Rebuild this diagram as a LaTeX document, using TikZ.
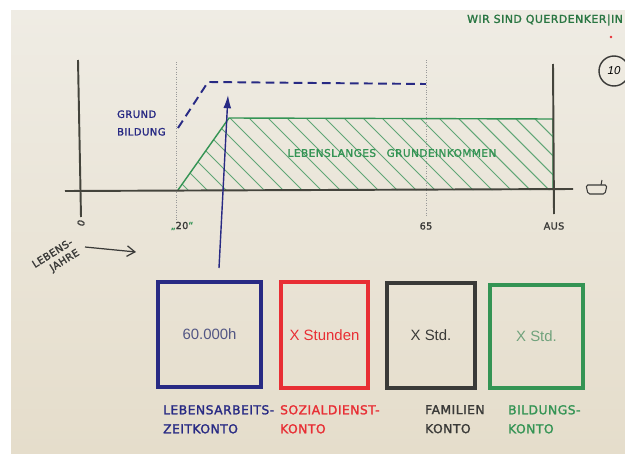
\documentclass[tikz,border=0pt]{standalone}
\usepackage{fontspec}
\setmainfont{Liberation Sans}
\newfontfamily\hand[LetterSpace=4,FakeBold=1.6]{DejaVu Sans}
\usetikzlibrary{arrows.meta,positioning}
\definecolor{paper}{RGB}{239,236,228}
\definecolor{paperlow}{RGB}{229,221,203}
\definecolor{ink}{RGB}{68,68,60}
\definecolor{navy}{RGB}{40,42,132}
\definecolor{numblue}{RGB}{82,86,132}
\definecolor{penred}{RGB}{232,46,52}
\definecolor{penblack}{RGB}{58,58,56}
\definecolor{pengreen}{RGB}{52,148,84}
\definecolor{softgreen}{RGB}{96,166,118}
\definecolor{palegreen}{RGB}{112,162,124}

\begin{document}
\begin{tikzpicture}[x=0.4mm,y=-0.4mm,
    axisline/.style={line width=2.2pt,ink},
    guide/.style={black!40,line width=0.8pt,dotted},
    hatchline/.style={softgreen,line width=1.2pt},
    tick/.style={font=\hand\fontsize{11}{13}\selectfont,inner sep=0pt},
    lab/.style={font=\hand\fontsize{14}{21.6}\selectfont,inner sep=0pt,anchor=north west,align=left},
    kontobox/.style={line width=3.6pt,inner sep=0pt,font=\fontsize{17}{19}\selectfont}]
  \clip (0,0) rectangle (625,453);
  \fill[white] (0,0) rectangle (625,453);
  \shade[top color=paper,bottom color=paperlow] (11,10) rectangle (625,453);

  % axes
  \coordinate (ytop) at (78,60);
  \coordinate (ybot) at (81,217);
  \coordinate (xl) at (65,191);
  \coordinate (xr) at (573,189);
  \coordinate (ausT) at (553,64);
  \coordinate (ausB) at (554,214);
  \coordinate (g20T) at (176,62);
  \coordinate (g20B) at (176,222);
  \coordinate (g65T) at (426,60);
  \coordinate (g65B) at (426,216);
  \coordinate (gA) at (178,190);
  \coordinate (gB) at (229,118);
  \coordinate (gC) at (553,119);
  \coordinate (gD) at (553,190);

  \begin{scope}
    \clip (gA) -- (gB) -- (gC) -- (gD) -- cycle;
    \foreach \h in {110,129,...,560}
      \draw[hatchline] (\h,112) -- ++(80,80);
  \end{scope}
  \draw[pengreen,line width=1.6pt,line join=round] (gA) -- (gB) -- (gC) -- (gD);

  \draw[guide] (g20T) -- (g20B);
  \draw[guide] (g65T) -- (g65B);
  \draw[axisline] (ytop) -- (ybot);
  \draw[axisline] (xl) -- (xr);
  \draw[axisline] (ausT) -- (ausB);

  % basic education, dashed
  \coordinate (bStart) at (178,128);
  \coordinate (bKnee) at (208,82);
  \coordinate (bEnd) at (426,84);
  \draw[navy,line width=2.2pt,dash pattern=on 10pt off 6pt] (bStart) -- (bKnee) -- (bEnd);

  \coordinate (upFoot) at (219,268);
  \coordinate (upTip) at (228,95);
  \draw[navy,line width=1.6pt,-{Latex[length=15pt,width=9pt]}] (upFoot) -- (upTip);

  \node[font=\hand\fontsize{11.5}{20}\selectfont,navy,align=left,anchor=west] (grund) at (114,123) {GRUND\\BILDUNG};
  \node[font=\hand\fontsize{12}{13}\selectfont,pengreen] (ubi) at (392,153) {LEBENSLANGES\quad GRUNDEINKOMMEN};

  \node[tick,penblack] (t20) at (182,226) {\textcolor{pengreen}{„}20\textcolor{pengreen}{“}};
  \node[tick,penblack] (t65) at (426,226) {65};
  \node[tick,penblack] (taus) at (554,226) {AUS};
  \node[tick,penblack,rotate=70] (t0) at (81,223) {0};

  \node[font=\hand\fontsize{11.5}{14}\selectfont,penblack,align=right,rotate=32] (jahre) at (56,259) {LEBENS-\\JAHRE};
  \coordinate (jA) at (85,247);
  \coordinate (jB) at (136,252);
  \draw[penblack,line width=1.4pt,-{Straight Barb[length=9pt,width=12pt]}] (jA) -- (jB);

  % small symbol right of the time axis
  \draw[penblack,line width=1.2pt,rounded corners=2pt] (586,185) -- (607,185) -- (605,194) -- (588,194) -- cycle;
  \draw[penblack,line width=1.2pt] (601,185) -- (602,180);

  % top right corner
  \node[font=\hand\fontsize{12.5}{14}\selectfont,pengreen!80!black,anchor=east] (motto) at (626,20) {WIR SIND QUERDENKER|IN};
  \fill[penred] (611,37) circle (1.4);
  \node[circle,draw=penblack,line width=1.6pt,minimum size=12mm,font=\fontsize{13}{15}\selectfont\itshape] (page) at (614,71) {10};

  % accounts
  \foreach \cx/\cy/\w/\h/\col/\txtcol/\txt/\nm in {
      209.5/334.5/103/105/navy/numblue/60.000h/arbeit,
      324.5/335/87/106/penred/penred/X Stunden/sozial,
      431/335.5/88/105/penblack/penblack/X Std./familie,
      536.5/336.5/93/103/pengreen/palegreen/X Std./bildung}
    \node[kontobox,draw=\col,text=\txtcol,minimum width=\w*0.4mm,minimum height=\h*0.4mm] (\nm) at (\cx,\cy) {\txt};

  \node[lab,navy] (arbeitlab) at (163,405) {LEBENSARBEITS-\\ZEITKONTO};
  \node[lab,penred] (soziallab) at (280,405) {SOZIALDIENST-\\KONTO};
  \node[lab,penblack] (familielab) at (425,405) {FAMILIEN\\KONTO};
  \node[lab,pengreen] (bildunglab) at (508,405) {BILDUNGS-\\KONTO};
\end{tikzpicture}
\end{document}
